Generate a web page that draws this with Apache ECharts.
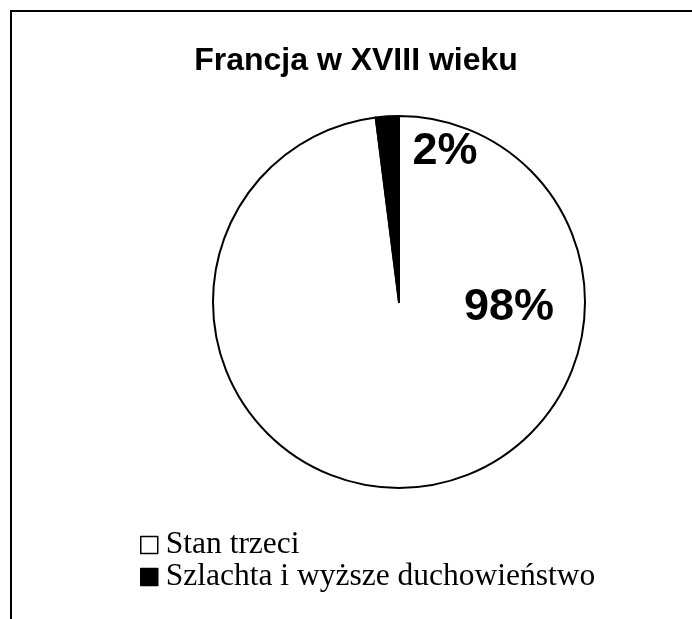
<!DOCTYPE html>
<html>
<head>
<meta charset="utf-8">
<script src="https://cdn.jsdelivr.net/npm/echarts@6/dist/echarts.min.js"></script>
<style>
  html, body { margin: 0; padding: 0; background: #fff; }
  #main { width: 692px; height: 619px; }
</style>
</head>
<body>
<div id="main"></div>
<script>
// dane wykresu
const categories = ['Stan trzeci', 'Szlachta i wyższe duchowieństwo'];
const values = [98, 2];
const colors = ['#ffffff', '#000000'];
const labelOffsets = [[104, -90], [52, -55]];

const chart = echarts.init(document.getElementById('main'));

const option = {
  animation: false,
  backgroundColor: '#fff',
  title: {
    text: 'Francja w XVIII wieku',
    left: 351,
    textAlign: 'center',
    top: 40,
    textStyle: {
      fontFamily: 'Liberation Sans',
      fontWeight: 'bold',
      fontSize: 32,
      color: '#000'
    }
  },
  legend: {
    orient: 'vertical',
    left: 135,
    top: 524,
    itemWidth: 17,
    itemHeight: 17,
    itemGap: 0,
    icon: 'rect',
    itemStyle: { borderColor: '#000', borderWidth: 1.5 },
    textStyle: {
      fontFamily: 'Liberation Serif',
      fontSize: 31.5,
      lineHeight: 32,
      color: '#000',
      padding: [0, 0, 0, 3]
    },
    data: categories
  },
  graphic: [
    { type: 'line', shape: { x1: 10, y1: 11, x2: 692, y2: 11 }, style: { stroke: '#000', lineWidth: 2 } },
    { type: 'line', shape: { x1: 11, y1: 10, x2: 11, y2: 619 }, style: { stroke: '#000', lineWidth: 2 } }
  ],
  series: [{
    type: 'pie',
    center: [399, 302],
    radius: 186,
    startAngle: 90,
    clockwise: true,
    avoidLabelOverlap: false,
    itemStyle: { borderColor: '#000', borderWidth: 2 },
    emphasis: { disabled: true },
    label: {
      show: true,
      position: 'inside',
      formatter: '{c}%',
      fontFamily: 'Liberation Sans',
      fontWeight: 'bold',
      fontSize: 45,
      color: '#000'
    },
    labelLine: { show: false },
    data: categories.map((name, i) => ({
      name: name,
      value: values[i],
      itemStyle: { color: colors[i] },
      label: { offset: labelOffsets[i] }
    }))
  }]
};

chart.setOption(option);
</script>
</body>
</html>
